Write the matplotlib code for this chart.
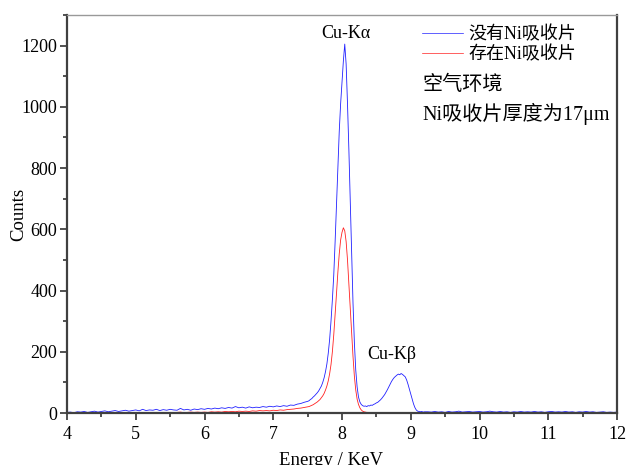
import numpy as np
import matplotlib
matplotlib.use("Agg")
import matplotlib.pyplot as plt
from matplotlib.ticker import MultipleLocator

plt.rcParams['font.family'] = ['Liberation Serif', 'Noto Sans CJK SC']

# energy grid (keV): coarse baseline, fine peak region, coarse tail
e_low = np.round(np.arange(4.00, 7.5001, 0.05), 2)
e_mid = np.round(np.arange(7.52, 9.2001, 0.02), 2)
e_high = np.round(np.arange(9.25, 12.0001, 0.05), 2)

# counts without Ni absorber (blue)
blue_low = [2, 3, 1, 4, 3, 5, 2, 4, 6, 3, 5, 7, 4, 6, 8, 5, 7, 9, 6, 8,
            10, 7, 12, 8, 10, 9, 12, 8, 11, 9, 12, 10, 9, 15, 10, 12, 9, 13, 11, 14,
            12, 15, 13, 16, 14, 17, 15, 18, 16, 21, 17, 19, 16, 20, 17, 19, 18, 21, 19, 22,
            20, 23, 21, 24, 22, 26, 25, 29, 31, 35, 38]
blue_mid = [40, 44, 47, 52, 56, 61, 66, 72, 80, 88,
            100, 115, 135, 160, 195, 240, 300, 370, 450, 560,
            680, 800, 920, 1010, 1080, 1150, 1205, 1140, 1010, 860,
            690, 520, 360, 230, 140, 85, 52, 36, 28, 24,
            22, 23, 21, 24, 23, 26, 25, 28, 30, 33,
            35, 39, 43, 48, 54, 60, 68, 76, 85, 94,
            103, 110, 116, 120, 124, 127, 125, 129, 126, 122,
            118, 108, 94, 78, 62, 45, 30, 18, 10, 6,
            5, 4, 5, 3, 4]
blue_high = [4, 3, 5, 3, 4, 2, 5, 3, 4, 6, 3, 4, 5, 3, 4, 5, 3, 4, 6, 4,
             3, 5, 3, 4, 2, 4, 3, 5, 3, 4, 3, 5, 3, 4, 2, 4, 5, 3, 4, 3,
             5, 3, 4, 2, 4, 3, 5, 3, 4, 2, 3, 4, 2, 3, 2, 3]

# counts with Ni absorber (red)
red_low = [0, 1, 0, 1, 0, 1, 0, 1, 0, 1, 0, 1, 1, 0, 1, 0, 1, 1, 0, 1,
           1, 0, 1, 2, 1, 0, 2, 1, 2, 1, 2, 1, 2, 3, 1, 2, 3, 2, 3, 2,
           3, 2, 4, 3, 4, 3, 5, 4, 5, 4, 6, 5, 6, 5, 7, 6, 8, 7, 8, 7,
           9, 8, 10, 9, 11, 12, 13, 15, 16, 18, 20]
red_mid = [21, 23, 25, 27, 30, 33, 36, 40, 44, 50,
           56, 64, 75, 88, 105, 128, 158, 200, 255, 320,
           390, 460, 520, 565, 590, 605, 595, 560, 500, 420,
           340, 260, 185, 120, 75, 45, 28, 17, 10, 6,
           4, 3, 2, 2, 1, 1, 0, 1, 0, 1,
           0, 0, 1, 0, 1, 0, 0, 1, 0, 0,
           1, 0, 0, 1, 0, 0, 1, 0, 0, 1,
           0, 0, 1, 0, 0, 1, 0, 0, 1, 0,
           0, 1, 0, 0, 1]
red_high = [0, 1, 0, 0, 1, 0, 0, 1, 0, 0, 1, 0, 0, 1, 0, 0, 1, 0, 0, 1,
            0, 0, 1, 0, 0, 1, 0, 0, 1, 0, 0, 1, 0, 0, 1, 0, 0, 1, 0, 0,
            1, 0, 0, 1, 0, 0, 1, 0, 0, 1, 0, 0, 1, 0, 0, 1]

energy = np.concatenate([e_low, e_mid, e_high])
blue = np.array(blue_low + blue_mid + blue_high)
red = np.array(red_low + red_mid + red_high)

fig = plt.figure(figsize=(6.27, 4.65), dpi=100)
ax = fig.add_axes([67 / 627, 1 - 413 / 465, 550 / 627, 398 / 465])

ax.plot(energy, blue, color='#2020ff', lw=0.6, label='没有Ni吸收片')
ax.plot(energy, red, color='#ff2020', lw=0.6, label='存在Ni吸收片')

ax.set_xlim(4, 12)
ax.set_ylim(0, 1300)
ax.xaxis.set_major_locator(MultipleLocator(1))
ax.xaxis.set_minor_locator(MultipleLocator(0.5))
ax.yaxis.set_major_locator(MultipleLocator(200))
ax.yaxis.set_minor_locator(MultipleLocator(100))
ax.tick_params(which='both', direction='out', colors='#333333', labelcolor='black',
               labelsize=13, width=1.2)
ax.tick_params(which='major', length=5, pad=2)
ax.tick_params(which='minor', length=3)
ax.tick_params(axis='x', pad=4)

for side in ['left', 'bottom', 'right']:
    ax.spines[side].set_color('#404040')
    ax.spines[side].set_linewidth(1.6)
ax.spines['top'].set_color('#999999')
ax.spines['top'].set_linewidth(1.0)

ax.set_xlabel('Energy / KeV', fontsize=13.5)
ax.xaxis.set_label_coords(0.48, -0.098)
ax.set_ylabel('Counts', fontsize=13.5)
ax.yaxis.set_label_coords(-0.073, 0.5)

ax.text(8.05, 1240, 'Cu-Kα', fontsize=13, ha='center', va='center')
ax.text(8.73, 190, 'Cu-Kβ', fontsize=13, ha='center', va='center')

leg = ax.legend(loc='upper left', bbox_to_anchor=(0.645, 0.972), frameon=False,
                fontsize=13, handlelength=2.3, handletextpad=0.3, borderpad=0,
                borderaxespad=0, labelspacing=0.15)
for line in leg.get_lines():
    line.set_linewidth(0.5)
ax.text(0.647, 0.822, '空气环境', fontsize=14.5, transform=ax.transAxes, va='center')
ax.text(0.647, 0.751, 'Ni吸收片厚度为17μm', fontsize=14.5, transform=ax.transAxes,
        va='center')

plt.savefig('out.png', dpi=100)
